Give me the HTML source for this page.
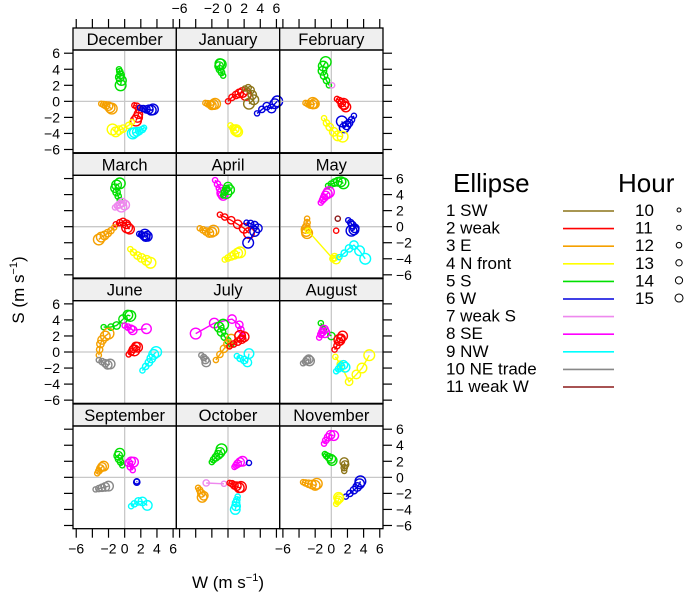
<!DOCTYPE html>
<html><head><meta charset="utf-8"><style>
html,body{margin:0;padding:0;background:#fff}
svg{display:block;font-family:"Liberation Sans",sans-serif}
</style></head><body>
<svg id="chart" width="685" height="596" viewBox="0 0 685 596" xmlns="http://www.w3.org/2000/svg"></svg>
<script>
const months = ["December","January","February","March","April","May","June","July","August","September","October","November"];
const typeNames = ["1 SW","2 weak","3 E","4 N front","5 S","6 W","7 weak S","8 SE","9 NW","10 NE trade","11 weak W"];
const typeColors = ["#8c7418","#ff0000","#f5a000","#ffff00","#00e000","#0000dd","#ee88ee","#ff00ff","#00ffff","#888888","#8b1a1a"];
const hours = [10,11,12,13,14,15];
const xTicks = [-6,-4,-2,0,2,4,6];
const xTickLabels = ["\u22126","","\u22122","0","2","4","6"];
const yTicks = [6,4,2,0,-2,-4,-6];
const yTickLabels = ["6","4","2","0","\u22122","\u22124","\u22126"];
const seriesMonth = [0,0,0,0,0,0, 1,1,1,1,1,1, 2,2,2,2,2,2, 3,3,3,3,3,3, 4,4,4,4,4,4, 5,5,5,5,5,5,5,5, 6,6,6,6,6,6, 7,7,7,7,7,7, 8,8,8,8,8,8, 9,9,9,9,9,9, 10,10,10,10,10,10,10, 11,11,11,11,11,11];
const seriesType = [5,3,2,6,4,9, 5,3,2,1,6,4, 5,7,3,2,6,4, 5,7,2,3,6,4, 8,5,2,6,3,4, 5,8,3,4,11,2,6,9, 5,8,3,10,2,9, 8,5,3,2,10,9, 5,8,2,10,4,9, 3,10,5,8,6,9, 5,8,6,7,2,3,9, 8,5,1,3,6,4];
const seriesW = [
[-0.7,-0.6,-0.5,-0.6,-0.4,-0.5],[-2.9,-2.6,-2.3,-2,-1.8,-1.6],[1.2,1.5,1.8,1.7,1.6,1.4],[1.9,2.3,2.7,3,3.3,3.5],[0.9,0.5,-0.2,-0.7,-1.1,-1.5],[2.4,2.2,1.8,1.5,1.2,1],
[-0.6,-0.8,-1,-1.1,-1,-0.9],[-2.8,-2.5,-2.2,-2,-1.8,-1.6],[0,0.5,1,1.4,1.8,2.2],[2.1,2.5,2.8,3,3.2,2.6],[3.6,4.2,4.8,5.4,5.8,6.1],[0.3,0.6,0.9,1.1,1.2,1],
[-0.3,-0.6,-0.9,-1.1,-1,-0.7],[0.1],[-3.2,-2.9,-2.6,-2.3,-2.1,-2.3],[0.7,1,1.3,1.6,1.8,1.5],[2.8,2.5,2.2,1.9,1.6,1.3],[-0.9,-0.6,-0.2,0.3,0.8,1.4],
[-0.6,-0.8,-1,-1.2,-1,-0.6],[-1.2,-0.9,-0.6,-0.3,0,-0.4],[-1.1,-0.6,-0.2,0.2,0.6,0.3],[-1.3,-1.7,-2.1,-2.5,-2.9,-3.2],[1.8,2.1,2.4,2.6,2.8,2.5],[0.7,1.1,1.6,2.1,2.7,3.2],
[-1.6,-1.3,-1,-0.8,-0.6,-0.7],[-0.6,-0.4,-0.2,0,0.2,-0.2],[-1,-0.4,0.4,1.2,2,2.6],[2.3,2.8,3.3,3.7,3.3,2.5],[-3.5,-3.1,-2.7,-2.3,-2,-1.8],[-0.4,0,0.4,0.8,1.2,1.5],
[-0.4,0,0.4,0.8,1.2,1.5],[-1.3,-1.1,-0.9,-0.7,-0.5,-0.3],[-3,-3,-3.1,-3.2,-3.1,-3],[-2.9,0.2,0.4,0.6],[0.8],[0.6],[2.1,2.4,2.6,2.9,2.8,2.5],[1,1.6,2.2,2.8,3.5,4.2],
[-2.6,-1.7,-1,-0.2,0.4,0.7],[0,0.4,0.8,1,2.7],[-3.2,-3.1,-3,-2.8,-2.4,-2],[-3.2,-2.8,-2.4,-2.1,-1.8],[0.5,0.8,1.1,1.4,1.6,1.2],[2.2,2.6,3,3.3,3.6,3.9],
[1.8,1.6,1.4,0.5,-1.7,-4],[0.4,0,-0.4,-0.8,-1.1,-0.6],[-1.5,-1,-0.5,0,0.4],[0.2,0.7,1.2,1.7,2,1.5],[-3.3,-3,-2.8,-2.7],[1.1,1.5,2,2.4,2.6],
[-1.3,-1,0],[-1.5,-1.3,-1.1,-0.9,-0.8],[0.4,0.7,1,1.2,1.4,1],[-3.5,-3.2,-3,-2.8,-2.7],[0.5,1.1,2.2,3.1,3.8,4.7],[0.6,0.9,1.2,1.5,1.7],
[-3.4,-3.2,-3,-2.8,-2.6],[-3.6,-3.2,-2.8,-2.4,-2],[-0.3,-0.5,-0.7,-0.8,-0.6],[1,0.7,0.5,0.8,1.1],[1.5,1.5],[0.8,1.2,1.7,2.2,2.8],
[-2,-1.8,-1.5,-1.2,-1,-0.8],[0.8,1,1.2,1.5,1.8],[2.6],[-0.5,-2.7],[0.2,0.5,0.8,1.1,1.4,1.6],[-3.7,-3.5,-3.3,-3,-3.2],[1.2,1.1,1,1,0.9],
[-0.9,-0.7,-0.4,-0.1,0.3],[-0.8,-0.6,-0.3,0,0.1],[1.6,1.6,1.7,1.6],[-3.5,-3.2,-2.8,-2.4,-2,-1.8],[1.8,2.3,2.8,3.2,3.5,3.6],[0.6,0.8,0.9,1,0.9]];
const seriesS = [
[4,3.7,3.3,3,2.6,2],[-0.3,-0.4,-0.5,-0.6,-0.8,-0.9],[-0.5,-0.6,-1,-1.6,-2,-2.4],[-0.8,-0.9,-1,-1,-1.1,-1],[-2.6,-3,-3.4,-3.6,-3.8,-3.5],[-3.3,-3.5,-3.7,-3.8,-3.9,-4],
[3.2,3.6,4,4.4,4.7,4.6],[-0.2,-0.3,-0.4,-0.5,-0.4,-0.3],[0,0.5,0.8,1,1.1,0.8],[1.6,1.7,1.4,0.8,0.2,-0.3],[-1.5,-1,-0.6,-0.9,-0.3,0],[-3,-3.3,-3.5,-3.7,-3.8,-3.6],
[2,2.6,3.2,3.8,4.4,4.9],[2],[-0.2,-0.3,-0.4,-0.4,-0.3,-0.2],[0.3,0.1,-0.2,-0.5,-0.7,-0.3],[-1.8,-2.3,-2.7,-3,-3.3,-2.5],[-2.1,-2.7,-3.2,-3.8,-4.3,-4.4],
[3.3,3.8,4.3,4.8,5.2,5.4],[2.4,2.6,2.8,3,2.7,2.5],[0.3,0.5,0.6,0.3,-0.3,-0.1],[-0.1,-0.5,-0.8,-1.1,-1.3,-1.6],[-0.9,-1,-1.2,-1.3,-1.2,-1],[-2.8,-3.2,-3.6,-3.9,-4.2,-4.5],
[5.8,5.3,4.8,4.3,3.9,4.2],[3.9,4.3,4.7,5,4.6,4.2],[1.5,1.2,0.8,0.3,-0.2,-0.8],[0.5,0.4,0.2,-0.2,-0.6,-2],[-0.2,-0.4,-0.6,-0.8,-0.7,-0.5],[-4.1,-3.9,-3.7,-3.5,-3.3,-3.2],
[5.1,5.3,5.5,5.6,5.6,5.4],[3,3.3,3.6,3.9,4.1,4.3],[1,0.5,0,-0.3,-0.6,-0.8],[-0.5,-4,-3.8,-4.1],[1],[-0.5],[0.8,0.5,0.2,-0.2,-0.4,-0.5],[-3.8,-3.3,-2.7,-2.3,-3,-4],
[3.1,3.1,3.3,4.1,4.6,4.5],[3.3,3.1,2.9,2.7,2.9],[-0.4,0.3,1,1.5,2,2.3],[-1,-1.2,-1.4,-1.6,-1.5],[-0.3,0,0.4,0.7,0.6,0.2],[-2.3,-1.8,-1.3,-0.8,-0.3,0],
[2,2.8,3.4,4.1,3.6,2.3],[0.9,1.4,1.9,2.5,3.1,3.4],[-1,-0.3,0.4,1,1.6],[0.7,1,1.3,1.6,1.9,2],[-0.4,-0.7,-1,-1.3],[-0.5,-0.8,-1,-1.3,-0.2],
[3.6,2.8,2],[1.8,2.2,2.5,2.8,2.4],[0.3,0.8,1.3,1.7,2,1.5],[-1.4,-1.2,-1,-0.9,-1.1],[-0.6,-1.5,-3.7,-2.8,-2,-0.4],[-2.4,-2.1,-1.8,-1.6,-1.9],
[0.5,0.8,1.1,1.3,1.4],[-1.5,-1.4,-1.3,-1.2,-1.1],[1.5,1.9,2.3,2.7,3],[0.9,1.3,1.8,2,1.9],[-0.5,-0.6],[-3.6,-3.3,-3,-3,-3.5],
[1.9,2.2,2.5,2.8,3.1,3.5],[1.3,1.5,1.7,1.9,2],[1.8],[-0.8,-0.7],[-0.7,-0.8,-1,-1.1,-1.3,-1.2],[-1.3,-1.6,-2,-2.3,-2.5],[-2.4,-2.8,-3.2,-3.6,-4],
[4.2,4.6,5,5.3,5.2],[2.9,2.7,2.5,2.3,2.1],[0.8,1.2,1.6,1.9],[-0.6,-0.7,-0.8,-0.9,-1,-0.8],[-2.4,-2,-1.6,-1.2,-0.8,-0.5],[-3.3,-3,-2.8,-2.6,-2.5]];

const NS="http://www.w3.org/2000/svg";
const svg=document.getElementById('chart');
function mk(tag,attrs,parent){const e=document.createElementNS(NS,tag);for(const k in attrs)e.setAttribute(k,attrs[k]);(parent||svg).appendChild(e);return e;}
const X0=73, PW=103.33, ROW=125.33, STRIP=22, PH=102.7, TOP=28;
const DOM=6.4;
function xScale(c,v){return X0+c*PW+PW/2+v*(PW/(2*DOM));}
function yScale(r,v){const t=TOP+r*ROW+STRIP;return t+PH/2-v*(PH/(2*DOM));}
function radius(hi){return 2.6+hi*0.55;}

for(let m=0;m<12;m++){
  const c=m%3,r=Math.floor(m/3);
  const px=X0+c*PW, sy=TOP+r*ROW, py=sy+STRIP;
  const g=mk('g',{});
  
  
  const strip=mk('rect',{x:px,y:sy,width:PW,height:STRIP,fill:'#efefef',stroke:'#000','stroke-width':1.3},g);
  
  
  const st=mk('text',{x:px+PW/2,y:sy+17,'text-anchor':'middle','font-size':16.5,fill:'#000'},g);
  st.textContent=months[m];
  
  
  mk('line',{x1:xScale(c,0),x2:xScale(c,0),y1:py,y2:py+PH,stroke:'#c8c8c8','stroke-width':1.3},g);
  mk('line',{x1:px,x2:px+PW,y1:yScale(r,0),y2:yScale(r,0),stroke:'#c8c8c8','stroke-width':1.3},g);
  for(let s=0;s<seriesMonth.length;s++){
    if(seriesMonth[s]!==m)continue;
    const col=typeColors[seriesType[s]-1];
    const W=seriesW[s],S=seriesS[s];
    const pts=W.map((w,i)=>xScale(c,w).toFixed(1)+','+yScale(r,S[i]).toFixed(1)).join(' ');
    if(W.length>1){
      const pl=mk('polyline',{points:pts,fill:'none',stroke:col,'stroke-width':1.4},g);
      
      
    }
    for(let i=0;i<W.length;i++){
      const ci=mk('circle',{cx:xScale(c,W[i]),cy:yScale(r,S[i]),r:radius(i),fill:'none',stroke:col,'stroke-width':1.4},g);
      
      
    }
  }
  const fr=mk('rect',{x:px,y:py,width:PW,height:PH,fill:'none',stroke:'#000','stroke-width':1.3},g);
  
  
}
// axes ticks
const bottomY=TOP+3*ROW+STRIP+PH;
for(let c=0;c<3;c++){
  xTicks.forEach((v,i)=>{
    const x=xScale(c,v);
    mk('line',{x1:x,x2:x,y1:TOP-9,y2:TOP,stroke:'#000','stroke-width':1.2});
    mk('line',{x1:x,x2:x,y1:bottomY,y2:bottomY+9,stroke:'#000','stroke-width':1.2});
    if(c===1&&xTickLabels[i]){const t=mk('text',{x:x,y:13,'text-anchor':'middle','font-size':14});t.textContent=xTickLabels[i];}
    if(c!==1&&xTickLabels[i]){const t=mk('text',{x:x,y:bottomY+25,'text-anchor':'middle','font-size':14});t.textContent=xTickLabels[i];}
  });
}
const rightX=X0+3*PW;
for(let r=0;r<4;r++){
  yTicks.forEach((v,i)=>{
    const y=yScale(r,v);
    mk('line',{x1:X0-9,x2:X0,y1:y,y2:y,stroke:'#000','stroke-width':1.2});
    mk('line',{x1:rightX,x2:rightX+9,y1:y,y2:y,stroke:'#000','stroke-width':1.2});
    if(r%2===0){const t=mk('text',{x:X0-13,y:y+5,'text-anchor':'end','font-size':14});t.textContent=yTickLabels[i];}
    else{const t=mk('text',{x:rightX+13,y:y+5,'text-anchor':'start','font-size':14});t.textContent=yTickLabels[i];}
  });
}
// axis titles
const xt=mk('text',{x:228,y:588,'text-anchor':'middle','font-size':17});
xt.innerHTML='W (m s<tspan dy="-7" font-size="11">\u22121</tspan><tspan dy="7">)</tspan>';


const yt=mk('text',{x:0,y:0,'text-anchor':'middle','font-size':17,transform:'translate(24,290) rotate(-90)'});
yt.innerHTML='S (m s<tspan dy="-7" font-size="11">\u22121</tspan><tspan dy="7">)</tspan>';


// legend
const lg=mk('g',{});


const et=mk('text',{x:453,y:192,'font-size':26},lg);et.textContent='Ellipse';


const ht=mk('text',{x:618,y:192,'font-size':26},lg);ht.textContent='Hour';


typeNames.forEach((n,i)=>{
  const y=216+i*17.6;
  const t=mk('text',{x:446,y:y,'font-size':17},lg);t.textContent=n;
  
  
  mk('line',{x1:563,x2:614,y1:y-5,y2:y-5,stroke:typeColors[i],'stroke-width':1.6},lg);
});
hours.forEach((h,i)=>{
  const y=216+i*17.6;
  const t=mk('text',{x:635,y:y,'font-size':17},lg);t.textContent=h;
  
  
  mk('circle',{cx:679,cy:y-6,r:radius(i)*0.75,fill:'none',stroke:'#000','stroke-width':1},lg);
});
</script>
</body></html>
